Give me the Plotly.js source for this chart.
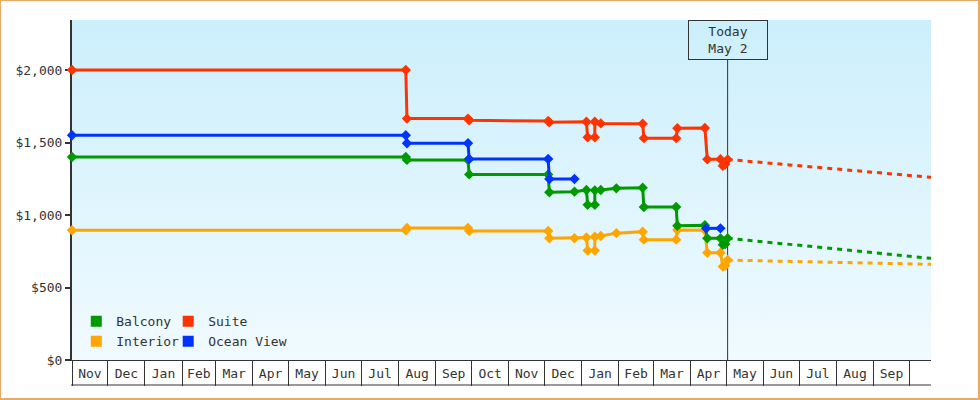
<!DOCTYPE html>
<html>
<head>
<meta charset="utf-8">
<script src="https://cdn.plot.ly/plotly-3.0.1.min.js"></script>
<style>
  body { margin: 0; background: #fff; }
  #wrap { position: relative; width: 980px; height: 400px; }
  #bg { position: absolute; left: 72px; top: 20px; width: 859px; height: 340px;
        background: linear-gradient(#cceffc, #f0faff); }
  #chart { position: absolute; left: 0; top: 0; width: 980px; height: 400px; }
  #frame { position: absolute; left: 0; top: 0; width: 980px; height: 400px; box-sizing: border-box;
           border: solid #e9aa66; border-width: 1px 2px 2px 1px; pointer-events: none; }
</style>
</head>
<body>
<div id="wrap">
  <div id="bg"></div>
  <div id="chart"></div>
  <div id="frame"></div>
</div>
<script>
// price history
var stepDates = ['2022-11-01', '2023-08-07', '2023-08-08', '2023-09-28', '2023-09-29',
                 '2023-12-04', '2023-12-05', '2023-12-26', '2024-01-05', '2024-01-06',
                 '2024-01-12', '2024-01-12', '2024-01-17', '2024-01-30', '2024-02-21',
                 '2024-02-22', '2024-03-20', '2024-03-21', '2024-04-13', '2024-04-15',
                 '2024-04-26', '2024-04-28', '2024-04-30', '2024-05-02'];
var balconyPrices  = [1400, 1400, 1380, 1380, 1280, 1280, 1157, 1161, 1172, 1070, 1070, 1170,
                      1172, 1184, 1188, 1055, 1055, 926, 930, 839, 839, 795, 800, 840];
var interiorPrices = [895, 895, 910, 910, 890, 890, 840, 840, 845, 755, 755, 850,
                      855, 875, 885, 830, 830, 897, 895, 740, 740, 645, 650, 690];

var suiteDates = ['2022-11-01', '2023-08-07', '2023-08-08', '2023-09-28', '2023-09-29',
                  '2023-12-04', '2023-12-05', '2024-01-05', '2024-01-06', '2024-01-12',
                  '2024-01-12', '2024-01-17', '2024-02-21', '2024-02-22', '2024-03-20',
                  '2024-03-21', '2024-04-13', '2024-04-15', '2024-04-26', '2024-04-28',
                  '2024-04-30', '2024-05-02'];
var suitePrices = [2000, 2000, 1665, 1665, 1653, 1648, 1640, 1643, 1536, 1536, 1643,
                   1632, 1629, 1530, 1530, 1598, 1600, 1384, 1385, 1340, 1350, 1383];

var oceanDates  = ['2022-11-01', '2023-08-07', '2023-08-08', '2023-09-28', '2023-09-29',
                   '2023-12-04', '2023-12-05', '2023-12-26', null, '2024-04-14', '2024-04-26'];
var oceanPrices = [1550, 1550, 1495, 1495, 1386, 1386, 1248, 1248, null, 908, 908];

// projected prices after today
var forecastDates    = ['2024-05-02', '2024-10-19'];
var suiteForecast    = [1383, 1260];
var balconyForecast  = [840, 701];
var interiorForecast = [689, 660];

var monthLabels = ['Nov', 'Dec', 'Jan', 'Feb', 'Mar', 'Apr', 'May', 'Jun', 'Jul', 'Aug', 'Sep', 'Oct',
                   'Nov', 'Dec', 'Jan', 'Feb', 'Mar', 'Apr', 'May', 'Jun', 'Jul', 'Aug', 'Sep'];
var priceTicks  = [0, 500, 1000, 1500, 2000];
var priceLabels = ['$0', '$500', '$1,000', '$1,500', '$2,000'];
var todayDate = '2024-05-02';
var todayLabel = 'Today<br>May 2';

var colors = {balcony: '#009900', interior: '#ffa500', suite: '#ff3300', ocean: '#0033ff'};

// label each month in the middle of its cell
var monthMids = monthLabels.map(function (m, i) {
  var a = Date.UTC(2022, 10 + i, 1), b = Date.UTC(2022, 11 + i, 1);
  return new Date((a + b) / 2).toISOString().slice(0, 19).replace('T', ' ');
});

function history(x, y, color) {
  return {x: x, y: y, type: 'scatter', mode: 'lines+markers', showlegend: false,
          cliponaxis: false, line: {color: color, width: 3},
          marker: {symbol: 'diamond', size: 8, color: color}};
}
function forecast(y, color) {
  return {x: forecastDates, y: y, type: 'scatter', mode: 'lines', showlegend: false,
          line: {color: color, width: 3, dash: '5px,5px'}};
}
function key(name, color, legend) {
  return {x: [null], y: [null], type: 'scatter', mode: 'markers', name: name, legend: legend,
          marker: {symbol: 'square', size: 11, color: color}};
}

var data = [
  forecast(interiorForecast, colors.interior),
  forecast(balconyForecast, colors.balcony),
  forecast(suiteForecast, colors.suite),
  history(stepDates, interiorPrices, colors.interior),
  history(stepDates, balconyPrices, colors.balcony),
  history(oceanDates, oceanPrices, colors.ocean),
  history(suiteDates, suitePrices, colors.suite),
  key('Balcony', colors.balcony, 'legend'),
  key('Interior', colors.interior, 'legend'),
  key('Suite', colors.suite, 'legend2'),
  key('Ocean View', colors.ocean, 'legend2')
];

var legendFont = {family: 'DejaVu Sans Mono', size: 13, color: '#333'};

var layout = {
  width: 980, height: 400,
  margin: {l: 72, r: 49, t: 20, b: 40},
  paper_bgcolor: 'rgba(0,0,0,0)',
  plot_bgcolor: 'rgba(0,0,0,0)',
  font: {family: 'DejaVu Sans Mono', size: 13, color: '#333'},
  hovermode: false,
  showlegend: true,
  xaxis: {
    type: 'date', range: ['2022-11-01', '2024-10-19'],
    tickmode: 'array', tickvals: monthMids, ticktext: monthLabels,
    ticks: '', ticklabelstandoff: 1,
    showgrid: false, zeroline: false,
    showline: true, linecolor: '#333', linewidth: 1,
    minor: {ticks: 'outside', ticklen: 25, tickwidth: 1, tickcolor: '#333',
            dtick: 'M1', tick0: '2022-11-01', showgrid: false}
  },
  yaxis: {
    range: [0, 2345], tickmode: 'array', tickvals: priceTicks, ticktext: priceLabels,
    ticks: 'outside', ticklen: 5, tickwidth: 2, tickcolor: '#333',
    showline: true, linecolor: '#333', linewidth: 2,
    showgrid: false, zeroline: false, layer: 'below traces'
  },
  legend: {x: 0.005, y: 0.158, xanchor: 'left', yanchor: 'top', bgcolor: 'rgba(0,0,0,0)',
           font: legendFont, tracegroupgap: 0},
  legend2: {x: 0.112, y: 0.158, xanchor: 'left', yanchor: 'top', bgcolor: 'rgba(0,0,0,0)',
            font: legendFont, tracegroupgap: 0},
  shapes: [
    {type: 'line', layer: 'below', xref: 'x', yref: 'paper', x0: todayDate, x1: todayDate,
     y0: 0, y1: 300 / 340, line: {color: '#333', width: 1}},
    {type: 'line', xref: 'paper', yref: 'paper', x0: -1 / 859, x1: 1, y0: -25 / 340, y1: -25 / 340,
     line: {color: '#333', width: 1}}
  ],
  annotations: [{
    x: todayDate, xref: 'x', y: 1, yref: 'paper', xanchor: 'center', yanchor: 'top',
    text: todayLabel, showarrow: false, width: 74, height: 34, borderpad: 2,
    bordercolor: '#333', borderwidth: 1, font: {family: 'DejaVu Sans Mono', size: 13, color: '#333'}
  }]
};

Plotly.newPlot('chart', data, layout, {displayModeBar: false, staticPlot: true});
</script>
</body>
</html>
